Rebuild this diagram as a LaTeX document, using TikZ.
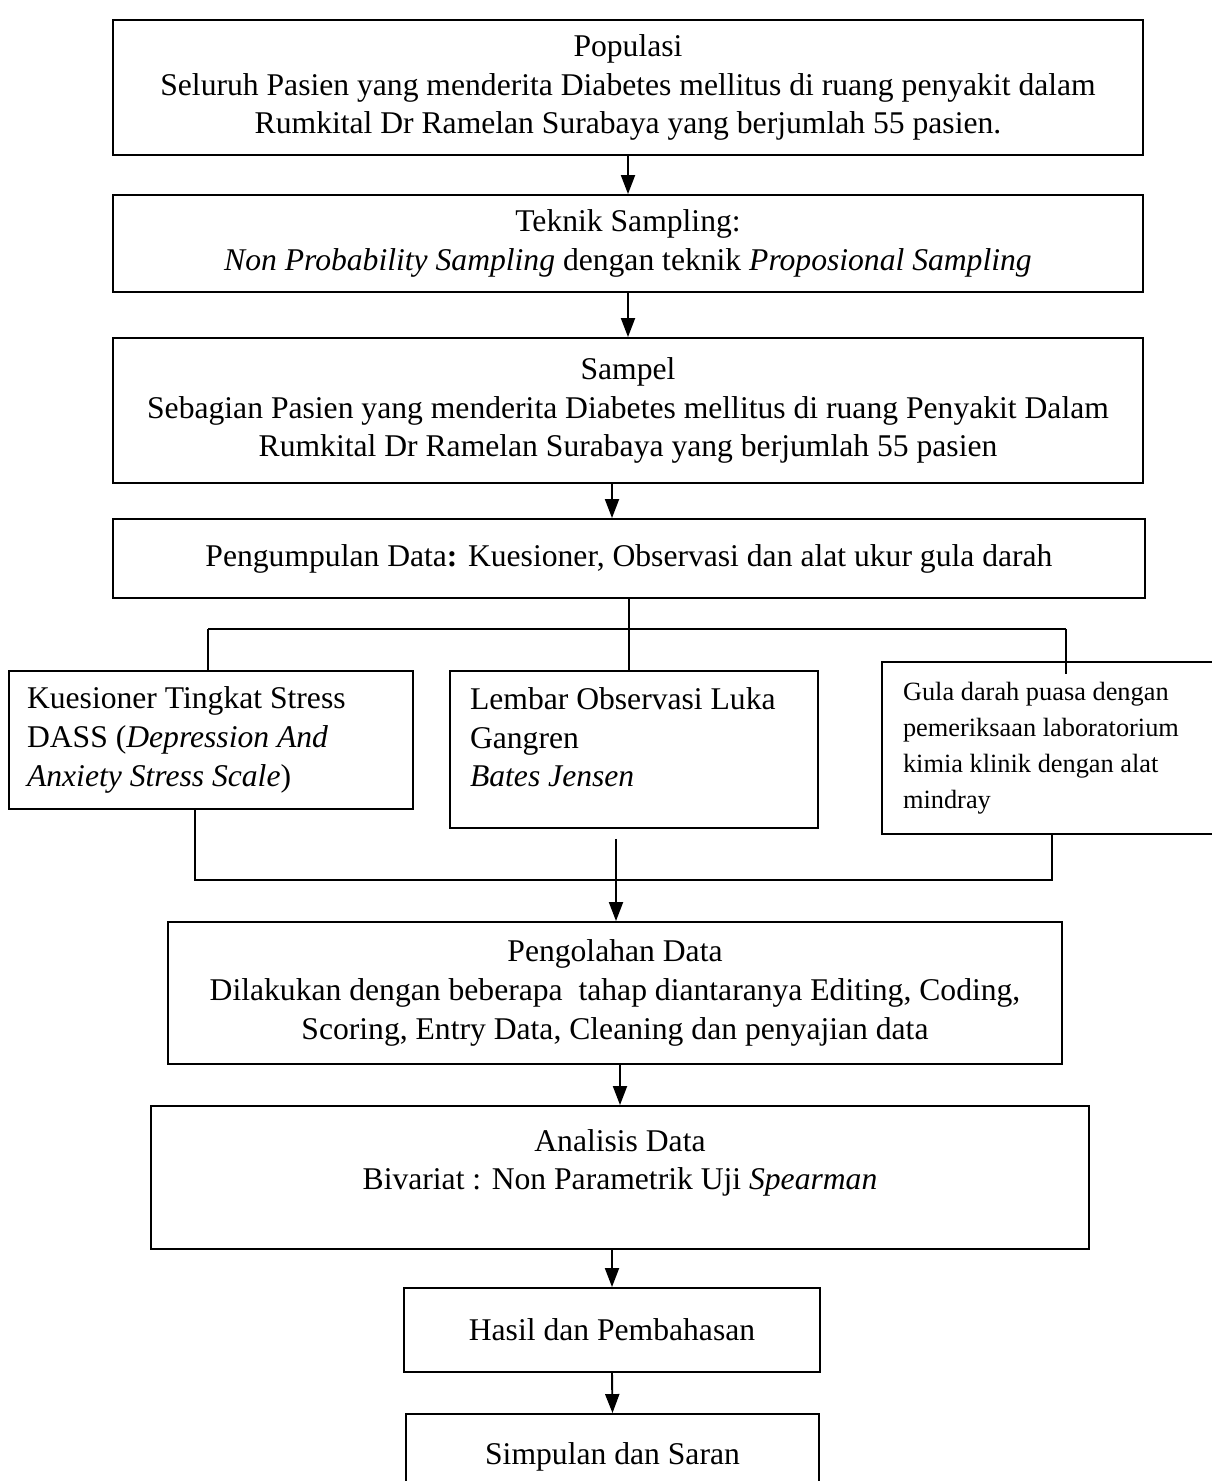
\documentclass[tikz,border=0pt]{standalone}
\usepackage{fontspec}
\setmainfont{Liberation Serif}
\usetikzlibrary{arrows.meta}

\tikzset{
    kotak/.style={draw, line width=1.1pt, inner sep=0pt, align=center, font=\fontsize{18}{22}\selectfont},
    kotakkiri/.style={kotak, align=flush left},
    panah/.style={line width=1.1pt, -{Triangle[width=0.28cm,length=0.38cm]}},
    garis/.style={line width=1pt},
}

\begin{document}
\begin{tikzpicture}[x=0.02cm, y=-0.02cm]
    \useasboundingbox (0,0) rectangle (1211,1481);

    \node[kotak, minimum width=20.6cm, minimum height=2.7cm] (pop) at (628,87.5)
        {Populasi\\ Seluruh Pasien yang menderita Diabetes mellitus di ruang penyakit dalam\\ Rumkital Dr Ramelan Surabaya yang berjumlah 55 pasien.};
    \node[kotak, minimum width=20.6cm, minimum height=1.94cm] (tek) at (628,243.5)
        {Teknik Sampling:\\ \textit{Non Probability Sampling} dengan teknik \textit{Proposional Sampling}};
    \node[kotak, minimum width=20.6cm, minimum height=2.9cm] (sam) at (628,410.5)
        {Sampel\\ Sebagian Pasien yang menderita Diabetes mellitus di ruang Penyakit Dalam\\ Rumkital Dr Ramelan Surabaya yang berjumlah 55 pasien};
    \node[kotak, minimum width=20.64cm, minimum height=1.58cm] (kum) at (629,558.5)
        {Pengumpulan Data\textbf{:} Kuesioner, Observasi dan alat ukur gula darah};

    \node[kotakkiri, inner xsep=0.36cm, text width=7.36cm, minimum height=2.76cm] (kues) at (211,740)
        {Kuesioner Tingkat Stress\\ DASS (\textit{Depression And}\\ \textit{Anxiety Stress Scale})};
    \node[kotakkiri, inner xsep=0.4cm, text width=6.56cm, minimum height=3.14cm, text depth=58pt] (lemb) at (634,749.5)
        {Lembar Observasi Luka\\ Gangren\\ \textit{Bates Jensen}};
    \node[kotakkiri, inner xsep=0.42cm, text width=6.02cm, minimum height=3.44cm, font=\fontsize{15}{20.5}\selectfont] (gula) at (1053.5,748)
        {Gula darah puasa dengan\\ pemeriksaan laboratorium\\ kimia klinik dengan alat\\ mindray};

    \node[kotak, minimum width=17.88cm, minimum height=2.84cm] (olah) at (615,993)
        {Pengolahan Data\\ Dilakukan dengan beberapa\ \ tahap diantaranya Editing, Coding,\\ Scoring, Entry Data, Cleaning dan penyajian data};
    \node[kotak, minimum width=18.76cm, minimum height=2.86cm] (anal) at (620,1177.5)
        {Analisis Data\\ Bivariat : Non Parametrik Uji \textit{Spearman}\\[-8pt] \strut};
    \node[kotak, minimum width=8.32cm, minimum height=1.68cm] (hasil) at (612,1330)
        {Hasil dan Pembahasan};
    \node[kotak, minimum width=8.26cm, minimum height=1.72cm] (simp) at (612.5,1457)
        {Simpulan dan Saran};

    \draw[panah] (pop.south) -- (tek.north);
    \draw[panah] (tek.south) -- (sam.north);
    \draw[panah] ([xshift=-0.32cm]sam.south) -- ([xshift=-0.34cm]kum.north);

    \coordinate (bagi) at (629,629);
    \coordinate (kiri) at (208,629);
    \coordinate (kanan) at (1066,629);
    \draw[garis] (kum.south) -- (bagi);
    \draw[garis] (kiri) -- (kanan);
    \draw[garis] (kiri) -- (kiri |- kues.north);
    \draw[garis] (bagi) -- (bagi |- lemb.north);
    \draw[garis] (kanan) -- ([yshift=-0.26cm]kanan |- gula.north);

    \coordinate (kiri2) at (195,880);
    \coordinate (tengah2) at (616,880);
    \coordinate (kanan2) at (1052,880);
    \draw[garis] (kiri2 |- kues.south) -- (kiri2) -- (kanan2) -- (kanan2 |- gula.south);
    \draw[garis] ([yshift=-0.2cm]tengah2 |- lemb.south) -- (tengah2);
    \draw[panah] (tengah2) -- (tengah2 |- olah.north);

    \draw[panah] ([xshift=0.1cm]olah.south) -- ([xshift=0.1cm]olah.south |- anal.north);
    \draw[panah] (anal.south -| hasil.north) -- (hasil.north);
    \draw[panah] (hasil.south) -- (simp.north);
\end{tikzpicture}
\end{document}
